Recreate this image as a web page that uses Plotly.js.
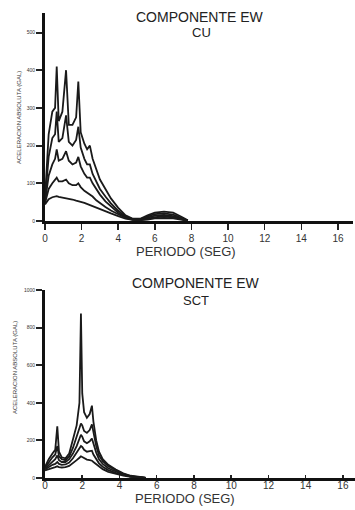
<!DOCTYPE html>
<html>
<head>
<meta charset="utf-8">
<script src="https://cdn.plot.ly/plotly-3.0.1.min.js"></script>
<style>html,body{margin:0;padding:0;background:#fff;}#chart{width:355px;height:510px;}</style>
</head>
<body>
<div id="chart"></div>
<script>
// ---- Top panel: COMPONENTE EW, CU ----
const periodCU = [0, 0.2, 0.4, 0.55, 0.64, 0.75, 0.95, 1.15, 1.3, 1.5, 1.7, 1.82, 1.95, 2.15, 2.3, 2.45, 2.6, 2.8, 3.0, 3.3, 3.6, 4.0, 4.4, 4.8, 5.2, 5.6, 6.0, 6.5, 7.0, 7.5, 7.8];
const cu1 = [60, 230, 290, 300, 410, 265, 290, 400, 255, 255, 275, 370, 235, 205, 190, 200, 165, 135, 110, 85, 60, 35, 15, 6, 6, 15, 22, 25, 22, 10, 2];
const cu2 = [55, 170, 220, 230, 290, 210, 220, 280, 210, 200, 215, 250, 195, 165, 150, 150, 125, 105, 85, 65, 47, 27, 12, 5, 5, 12, 18, 20, 17, 7, 1];
const cu3 = [50, 120, 150, 165, 190, 160, 165, 185, 160, 150, 155, 170, 145, 125, 115, 115, 100, 85, 70, 52, 38, 22, 10, 4, 4, 9, 14, 16, 13, 5, 1];
const cu4 = [47, 85, 100, 108, 115, 105, 105, 110, 100, 95, 95, 100, 90, 80, 75, 72, 65, 55, 47, 37, 28, 17, 8, 3, 3, 6, 10, 12, 10, 4, 0];
const cu5 = [44, 58, 63, 65, 66, 64, 62, 62, 60, 57, 54, 53, 51, 48, 45, 43, 40, 36, 32, 26, 20, 13, 6, 3, 2, 4, 7, 8, 7, 3, 0];

// ---- Bottom panel: COMPONENTE EW, SCT ----
const periodSCT = [0, 0.2, 0.4, 0.55, 0.66, 0.75, 0.9, 1.1, 1.3, 1.5, 1.7, 1.85, 1.93, 2.0, 2.1, 2.25, 2.4, 2.52, 2.6, 2.75, 2.9, 3.1, 3.4, 3.8, 4.2, 4.6, 5.0, 5.4];
const sct1 = [60, 100, 130, 150, 275, 140, 110, 105, 130, 200, 280, 400, 875, 450, 350, 320, 340, 385, 300, 200, 140, 100, 70, 45, 25, 12, 5, 2];
const sct2 = [55, 85, 110, 125, 170, 115, 100, 95, 115, 160, 215, 265, 290, 280, 250, 240, 255, 285, 240, 170, 120, 90, 62, 40, 22, 10, 4, 1];
const sct3 = [50, 70, 90, 100, 120, 95, 85, 85, 100, 130, 170, 210, 230, 220, 195, 185, 195, 210, 180, 135, 100, 75, 52, 33, 18, 8, 3, 1];
const sct4 = [45, 58, 70, 75, 85, 75, 70, 72, 82, 105, 135, 160, 170, 165, 150, 140, 142, 145, 125, 100, 78, 60, 42, 27, 15, 7, 3, 1];
const sct5 = [40, 48, 55, 58, 62, 58, 56, 58, 64, 78, 95, 108, 115, 112, 105, 98, 95, 92, 85, 72, 60, 47, 33, 21, 12, 6, 2, 1];

// ---- Tick labels ----
const xTickVals = [0, 2, 4, 6, 8, 10, 12, 14, 16];
const xTickText = ['0', '2', '4', '6', '8', '10', '12', '14', '16'];
const yTickValsCU = [0, 100, 200, 300, 400, 500];
const yTickTextCU = ['0', '100', '200', '300', '400', '500'];
const yTickValsSCT = [0, 200, 400, 600, 800, 1000];
const yTickTextSCT = ['0', '200', '400', '600', '800', '1000'];

const lineStyle = {color: '#1a1a1a', width: 1.8};
function mk(x, y, xa, ya) {
  return {x: x, y: y, type: 'scatter', mode: 'lines', line: lineStyle, xaxis: xa, yaxis: ya, hoverinfo: 'skip', showlegend: false};
}
const traces = [
  mk(periodCU, cu1, 'x', 'y'), mk(periodCU, cu2, 'x', 'y'), mk(periodCU, cu3, 'x', 'y'),
  mk(periodCU, cu4, 'x', 'y'), mk(periodCU, cu5, 'x', 'y'),
  mk(periodSCT, sct1, 'x2', 'y2'), mk(periodSCT, sct2, 'x2', 'y2'), mk(periodSCT, sct3, 'x2', 'y2'),
  mk(periodSCT, sct4, 'x2', 'y2'), mk(periodSCT, sct5, 'x2', 'y2')
];

const W = 355, H = 510;
const px = v => v / W;
const py = v => 1 - v / H;
const FONT = 'Liberation Sans, Arial, sans-serif';

const xaxisBase = {
  showgrid: false, zeroline: false, showline: true, linecolor: '#111', linewidth: 3,
  ticks: 'outside', tickcolor: '#222', tickwidth: 1.5,
  tickvals: xTickVals, ticktext: xTickText,
  tickfont: {family: FONT, size: 10, color: '#333'}, fixedrange: true
};
const yaxisBase = {
  showgrid: false, zeroline: false, showline: true, linecolor: '#111', linewidth: 3,
  ticks: 'outside', ticklen: 6, tickcolor: '#222', tickwidth: 2,
  tickfont: {family: FONT, size: 5, color: '#333'}, fixedrange: true
};

const layout = {
  width: W, height: H,
  margin: {l: 0, r: 0, t: 0, b: 0},
  paper_bgcolor: '#fff', plot_bgcolor: '#fff',
  showlegend: false,
  xaxis: Object.assign({}, xaxisBase, {
    domain: [px(45), px(353)], range: [0, (353 - 45) / 18.31], anchor: 'y', ticklen: 6
  }),
  yaxis: Object.assign({}, yaxisBase, {
    domain: [py(221), py(13)], range: [0, (221 - 13) / 37.7 * 100], anchor: 'x',
    tickvals: yTickValsCU, ticktext: yTickTextCU
  }),
  xaxis2: Object.assign({}, xaxisBase, {
    domain: [px(45), px(355)], range: [0, (355 - 45) / 18.62], anchor: 'y2',
    ticks: 'inside', ticklen: 3, ticklabelstandoff: -4
  }),
  yaxis2: Object.assign({}, yaxisBase, {
    domain: [py(478), py(290)], range: [0, 1000], anchor: 'x2',
    tickvals: yTickValsSCT, ticktext: yTickTextSCT
  }),
  annotations: [
    {text: 'COMPONENTE EW', x: px(200), y: py(17), xref: 'paper', yref: 'paper', showarrow: false,
     xanchor: 'center', yanchor: 'middle', font: {family: FONT, size: 14, color: '#222'}},
    {text: 'CU', x: px(201), y: py(32), xref: 'paper', yref: 'paper', showarrow: false,
     xanchor: 'center', yanchor: 'middle', font: {family: FONT, size: 13, color: '#222'}},
    {text: 'PERIODO (SEG)', x: px(186), y: py(251), xref: 'paper', yref: 'paper', showarrow: false,
     xanchor: 'center', yanchor: 'middle', font: {family: FONT, size: 13, color: '#333'}},
    {text: 'ACELERACION ABSOLUTA (GAL)', x: px(19), y: py(118), xref: 'paper', yref: 'paper', showarrow: false,
     textangle: -90, xanchor: 'center', yanchor: 'middle', font: {family: FONT, size: 6, color: '#333'}},
    {text: 'COMPONENTE EW', x: px(196), y: py(283), xref: 'paper', yref: 'paper', showarrow: false,
     xanchor: 'center', yanchor: 'middle', font: {family: FONT, size: 14, color: '#222'}},
    {text: 'SCT', x: px(196), y: py(300), xref: 'paper', yref: 'paper', showarrow: false,
     xanchor: 'center', yanchor: 'middle', font: {family: FONT, size: 13, color: '#222'}},
    {text: 'PERIODO (SEG)', x: px(185), y: py(498), xref: 'paper', yref: 'paper', showarrow: false,
     xanchor: 'center', yanchor: 'middle', font: {family: FONT, size: 13, color: '#333'}},
    {text: 'ACELERACION ABSOLUTA (GAL)', x: px(15), y: py(368), xref: 'paper', yref: 'paper', showarrow: false,
     textangle: -90, xanchor: 'center', yanchor: 'middle', font: {family: FONT, size: 6, color: '#333'}}
  ]
};

Plotly.newPlot('chart', traces, layout, {displayModeBar: false, staticPlot: true});
</script>
</body>
</html>
